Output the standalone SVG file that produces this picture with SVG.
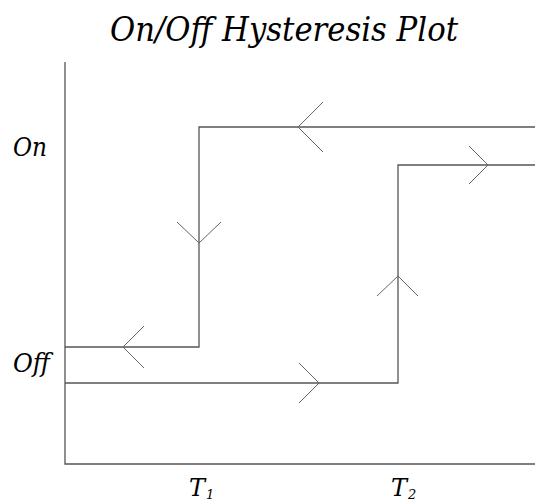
<svg xmlns="http://www.w3.org/2000/svg" width="535" height="502" viewBox="0 0 535 502">
  <style>
    .lbl { font-family: "DejaVu Serif", "Liberation Serif", serif; font-style: italic; fill: #000; }
    .ln { fill: none; stroke: #555; stroke-width: 1.3; }
    .ar { fill: none; stroke: #666; stroke-width: 1; }
  </style>
  <rect width="535" height="502" fill="#fff"/>
  <g id="title">
    <text class="lbl" x="110" y="41" font-size="34" textLength="348" lengthAdjust="spacingAndGlyphs">On/Off Hysteresis Plot</text>
  </g>
  <g id="axes">
    <polyline class="ln" points="65,62 65,464 535,464"/>
  </g>
  <g id="labels">
    <text class="lbl" x="13" y="156" font-size="26" textLength="34" lengthAdjust="spacingAndGlyphs">On</text>
    <text class="lbl" x="13" y="372" font-size="26" textLength="37" lengthAdjust="spacingAndGlyphs">Off</text>
    <text class="lbl" x="189" y="496" font-size="24">T<tspan font-size="13" dx="1" dy="3">1</tspan></text>
    <text class="lbl" x="391" y="496" font-size="24">T<tspan font-size="13" dx="1" dy="3">2</tspan></text>
  </g>
  <g id="connectors">
    <!-- cooling branch: on, switches off at T1 -->
    <polyline class="ln" points="535,127 199,127 199,347 65,347"/>
    <!-- heating branch: off, switches on at T2 -->
    <polyline class="ln" points="65,383 398,383 398,165 535,165"/>
    <!-- direction marks -->
    <polyline class="ar" points="323,102 298,127 323,152"/>
    <polyline class="ar" points="177,222 199,243 221,222"/>
    <polyline class="ar" points="144,326 123,347 144,368"/>
    <polyline class="ar" points="299,363 319,383 299,403"/>
    <polyline class="ar" points="377,296 398,276 418,296"/>
    <polyline class="ar" points="469,146 488,165 469,184"/>
  </g>
</svg>
